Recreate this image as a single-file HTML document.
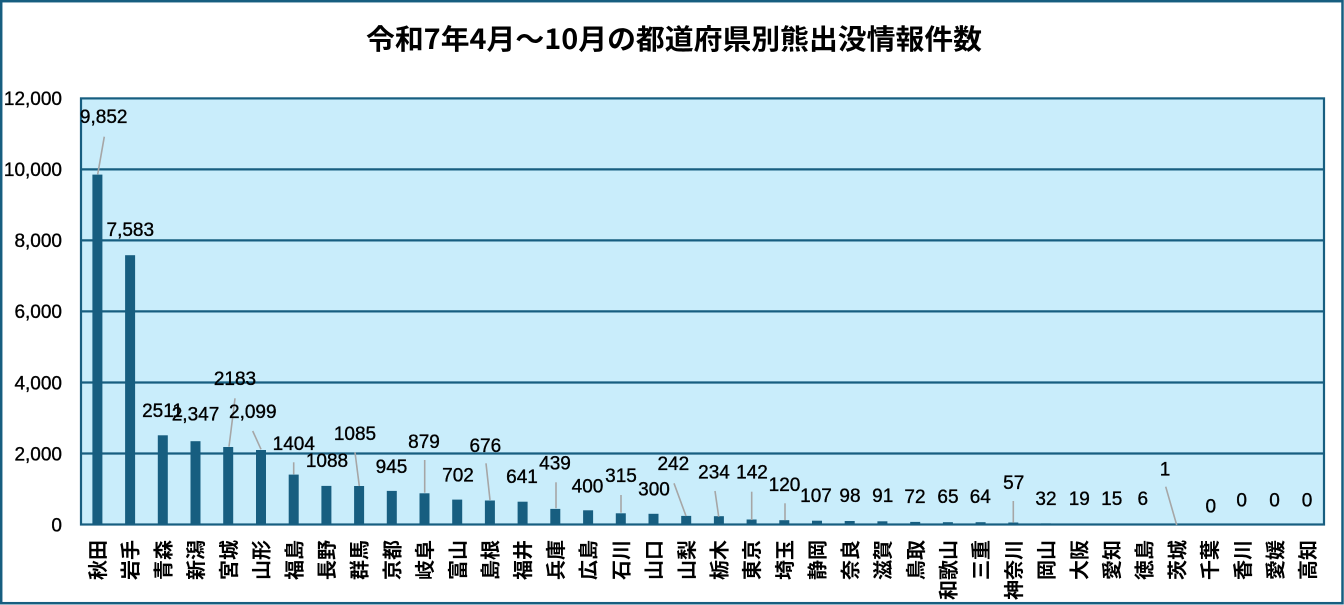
<!DOCTYPE html>
<html>
<head>
<meta charset="utf-8">
<style>
html,body{margin:0;padding:0;background:#fff;}
svg{display:block;}
.t{font-family:"Liberation Sans","Noto Sans CJK JP",sans-serif;font-size:19px;fill:#000;text-anchor:middle;stroke:#000;stroke-width:0.35;}
.y{font-family:"Liberation Sans",sans-serif;font-size:19px;fill:#000;text-anchor:end;stroke:#000;stroke-width:0.35;}
.x{font-family:"Noto Sans CJK JP","WenQuanYi Zen Hei",sans-serif;font-size:20px;font-weight:700;fill:#000;text-anchor:end;}
.ld{stroke:#a6a6a6;stroke-width:1.6;}
</style>
</head>
<body>
<svg width="1344" height="605" viewBox="0 0 1344 605" xmlns="http://www.w3.org/2000/svg">
<rect x="0" y="0" width="1344" height="605" fill="#fff"/>
<rect x="1.2" y="1.2" width="1341.3" height="602" fill="none" stroke="#175e80" stroke-width="2.5"/>
<text x="366" y="49" textLength="616" lengthAdjust="spacingAndGlyphs" style="font-family:'Noto Sans CJK JP','WenQuanYi Zen Hei',sans-serif;font-size:28px;font-weight:700;fill:#000;">令和7年4月～10月の都道府県別熊出没情報件数</text>

<!-- plot area -->
<rect x="81" y="98.4" width="1243" height="426.1" fill="#c9edfb"/>
<g stroke="#175e80" stroke-width="2.2">
<line x1="81" y1="169.4" x2="1324" y2="169.4"/>
<line x1="81" y1="240.4" x2="1324" y2="240.4"/>
<line x1="81" y1="311.4" x2="1324" y2="311.4"/>
<line x1="81" y1="382.5" x2="1324" y2="382.5"/>
<line x1="81" y1="453.5" x2="1324" y2="453.5"/>
</g>
<rect x="81" y="98.4" width="1243" height="426.1" fill="none" stroke="#175e80" stroke-width="2.2"/>

<!-- y ticks -->
<text class="y" x="62" y="105.2">12,000</text>
<text class="y" x="62" y="176.2">10,000</text>
<text class="y" x="62" y="247.2">8,000</text>
<text class="y" x="62" y="318.2">6,000</text>
<text class="y" x="62" y="389.3">4,000</text>
<text class="y" x="62" y="460.3">2,000</text>
<text class="y" x="62" y="531.3">0</text>

<!-- bars -->
<g fill="#175e80">
<rect x="92.4" y="174.6" width="10" height="349.9"/>
<rect x="125.1" y="255.2" width="10" height="269.3"/>
<rect x="157.8" y="435.3" width="10" height="89.2"/>
<rect x="190.5" y="441.2" width="10" height="83.3"/>
<rect x="223.2" y="447.0" width="10" height="77.5"/>
<rect x="256.0" y="450.0" width="10" height="74.5"/>
<rect x="288.7" y="474.6" width="10" height="49.9"/>
<rect x="321.4" y="485.9" width="10" height="38.6"/>
<rect x="354.1" y="486.0" width="10" height="38.5"/>
<rect x="386.8" y="490.9" width="10" height="33.6"/>
<rect x="419.5" y="493.3" width="10" height="31.2"/>
<rect x="452.2" y="499.6" width="10" height="24.9"/>
<rect x="484.9" y="500.5" width="10" height="24.0"/>
<rect x="517.6" y="501.7" width="10" height="22.8"/>
<rect x="550.3" y="508.9" width="10" height="15.6"/>
<rect x="583.1" y="510.3" width="10" height="14.2"/>
<rect x="615.8" y="513.3" width="10" height="11.2"/>
<rect x="648.5" y="513.8" width="10" height="10.7"/>
<rect x="681.2" y="515.9" width="10" height="8.6"/>
<rect x="713.9" y="516.2" width="10" height="8.3"/>
<rect x="746.6" y="519.5" width="10" height="5.0"/>
<rect x="779.3" y="520.2" width="10" height="4.3"/>
<rect x="812.0" y="520.7" width="10" height="3.8"/>
<rect x="844.7" y="521.0" width="10" height="3.5"/>
<rect x="877.4" y="521.3" width="10" height="3.2"/>
<rect x="910.2" y="521.9" width="10" height="2.6"/>
<rect x="942.9" y="522.2" width="10" height="2.3"/>
<rect x="975.6" y="522.2" width="10" height="2.3"/>
<rect x="1008.3" y="522.5" width="10" height="2.0"/>
<rect x="1041.0" y="523.4" width="10" height="1.1"/>
<rect x="1073.7" y="523.8" width="10" height="0.7"/>
<rect x="1106.4" y="524.0" width="10" height="0.5"/>
</g>

<!-- leader lines -->
<g class="ld">
<line x1="104.3" y1="136.7" x2="97.7" y2="174.3"/>
<line x1="235" y1="398.3" x2="229" y2="446.7"/>
<line x1="252.7" y1="431" x2="261" y2="449.3"/>
<line x1="293.7" y1="462.3" x2="293.7" y2="474.3"/>
<line x1="355" y1="452.3" x2="359.3" y2="486"/>
<line x1="424.7" y1="460" x2="424.7" y2="492.7"/>
<line x1="486" y1="463.3" x2="490" y2="500"/>
<line x1="556" y1="482.3" x2="556" y2="508.3"/>
<line x1="621" y1="495" x2="621" y2="512.7"/>
<line x1="674" y1="483.3" x2="686" y2="516"/>
<line x1="715" y1="491" x2="718.7" y2="516.7"/>
<line x1="751.7" y1="491.7" x2="751.7" y2="520"/>
<line x1="785" y1="503.3" x2="785" y2="520"/>
<line x1="1013.3" y1="501" x2="1013.3" y2="522.7"/>
<line x1="1165.7" y1="486.7" x2="1176.7" y2="525"/>
</g>

<!-- data labels -->
<g class="t">
<text x="103.7" y="122.8">9,852</text>
<text x="130.3" y="236.1">7,583</text>
<text x="162.5" y="416.8">2511</text>
<text x="195.5" y="420.3">2,347</text>
<text x="235" y="384.8">2183</text>
<text x="252.8" y="417.8">2,099</text>
<text x="293.8" y="449.8">1404</text>
<text x="327" y="466.8">1088</text>
<text x="355" y="439.8">1085</text>
<text x="391.5" y="472.8">945</text>
<text x="424" y="447.8">879</text>
<text x="458" y="481.5">702</text>
<text x="485.3" y="451.8">676</text>
<text x="522" y="482.8">641</text>
<text x="555" y="469.5">439</text>
<text x="587.5" y="492.5">400</text>
<text x="621" y="482.1">315</text>
<text x="654" y="495.5">300</text>
<text x="673.3" y="470.1">242</text>
<text x="714" y="478.5">234</text>
<text x="752" y="478.5">142</text>
<text x="784.5" y="490.8">120</text>
<text x="816" y="501.8">107</text>
<text x="850" y="501.8">98</text>
<text x="882.7" y="501.8">91</text>
<text x="915" y="502.8">72</text>
<text x="948" y="502.8">65</text>
<text x="980.3" y="502.8">64</text>
<text x="1013.7" y="488.8">57</text>
<text x="1046" y="504.8">32</text>
<text x="1079.3" y="504.8">19</text>
<text x="1111.7" y="504.8">15</text>
<text x="1142.8" y="504.8">6</text>
<text x="1165" y="475.5">1</text>
<text x="1210.8" y="512.3">0</text>
<text x="1241.7" y="506.3">0</text>
<text x="1274.5" y="506.3">0</text>
<text x="1307" y="506.3">0</text>
</g>

<!-- x labels -->
<g class="x">
<text transform="translate(105.0,540) rotate(-90)">秋田</text>
<text transform="translate(137.7,540) rotate(-90)">岩手</text>
<text transform="translate(170.4,540) rotate(-90)">青森</text>
<text transform="translate(203.1,540) rotate(-90)">新潟</text>
<text transform="translate(235.8,540) rotate(-90)">宮城</text>
<text transform="translate(268.6,540) rotate(-90)">山形</text>
<text transform="translate(301.3,540) rotate(-90)">福島</text>
<text transform="translate(334.0,540) rotate(-90)">長野</text>
<text transform="translate(366.7,540) rotate(-90)">群馬</text>
<text transform="translate(399.4,540) rotate(-90)">京都</text>
<text transform="translate(432.1,540) rotate(-90)">岐阜</text>
<text transform="translate(464.8,540) rotate(-90)">富山</text>
<text transform="translate(497.5,540) rotate(-90)">島根</text>
<text transform="translate(530.2,540) rotate(-90)">福井</text>
<text transform="translate(562.9,540) rotate(-90)">兵庫</text>
<text transform="translate(595.7,540) rotate(-90)">広島</text>
<text transform="translate(628.4,540) rotate(-90)">石川</text>
<text transform="translate(661.1,540) rotate(-90)">山口</text>
<text transform="translate(693.8,540) rotate(-90)">山梨</text>
<text transform="translate(726.5,540) rotate(-90)">栃木</text>
<text transform="translate(759.2,540) rotate(-90)">東京</text>
<text transform="translate(791.9,540) rotate(-90)">埼玉</text>
<text transform="translate(824.6,540) rotate(-90)">静岡</text>
<text transform="translate(857.3,540) rotate(-90)">奈良</text>
<text transform="translate(890.0,540) rotate(-90)">滋賀</text>
<text transform="translate(922.8,540) rotate(-90)">鳥取</text>
<text transform="translate(955.5,540) rotate(-90)">和歌山</text>
<text transform="translate(988.2,540) rotate(-90)">三重</text>
<text transform="translate(1020.9,540) rotate(-90)">神奈川</text>
<text transform="translate(1053.6,540) rotate(-90)">岡山</text>
<text transform="translate(1086.3,540) rotate(-90)">大阪</text>
<text transform="translate(1119.0,540) rotate(-90)">愛知</text>
<text transform="translate(1151.7,540) rotate(-90)">徳島</text>
<text transform="translate(1184.4,540) rotate(-90)">茨城</text>
<text transform="translate(1217.1,540) rotate(-90)">千葉</text>
<text transform="translate(1249.8,540) rotate(-90)">香川</text>
<text transform="translate(1282.5,540) rotate(-90)">愛媛</text>
<text transform="translate(1315.2,540) rotate(-90)">高知</text>
</g>
</svg>
</body>
</html>
